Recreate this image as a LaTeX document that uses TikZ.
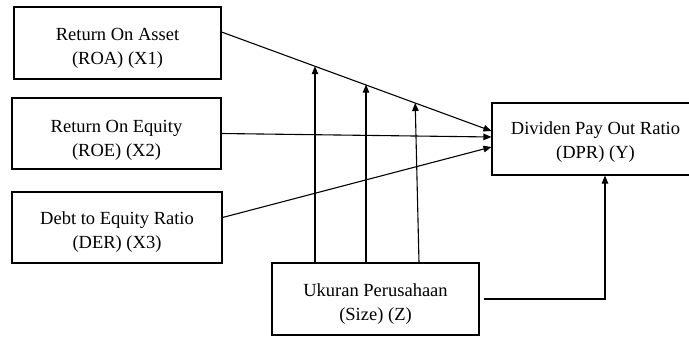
\documentclass[tikz,border=0pt]{standalone}
\usepackage{fontspec}
\setmainfont{Liberation Serif}
\usetikzlibrary{arrows.meta,calc}
\begin{document}
\begin{tikzpicture}[x=1pt,y=-1pt,
  varbox/.style={draw, line width=1.1pt, inner sep=0pt},
  txt/.style={inner sep=0pt, align=center, font=\fontsize{18.5}{24}\selectfont},
  conn/.style={line width=1.1pt},
  arr/.style={conn, -{Triangle[length=8pt,width=6.5pt]}}]
\useasboundingbox (0,0) rectangle (689,337);
\node[varbox, minimum width=207pt, minimum height=72pt] (roa) at (117.5,43) {};
\node[varbox, minimum width=209pt, minimum height=71pt] (roe) at (116.5,133.5) {};
\node[varbox, minimum width=210pt, minimum height=71pt] (der) at (117,227.5) {};
\node[varbox, minimum width=207pt, minimum height=72pt] (size) at (375.5,299) {};
\node[varbox, minimum width=200pt, minimum height=72pt] (dpr) at (592,139) {};
\node[txt] (roat) at ([yshift=-5.5pt]roa.center) {Return On Asset\\(ROA) (X1)};
\node[txt] (roet) at ([yshift=-6.5pt]roe.center) {Return On Equity\\(ROE) (X2)};
\node[txt] (dert) at ([yshift=-5pt]der.center) {Debt to Equity Ratio\\(DER) (X3)};
\node[txt] (sizet) at ([yshift=-5pt]size.center) {Ukuran Perusahaan\\(Size) (Z)};
\node[txt] (dprt) at ([xshift=3.5pt,yshift=-3pt]dpr.center) {Dividen Pay Out Ratio\\(DPR) (Y)};
\coordinate (r1) at ([yshift=11pt]roa.east);
\coordinate (r2) at ([yshift=8pt]dpr.west);
\draw[arr] (r1) -- (r2);
\draw[arr] (roe.east) -- ([yshift=2pt]dpr.west);
\draw[arr] ([yshift=10pt]der.east) -- ([yshift=-8pt]dpr.west);
\coordinate (t1) at ($(r1)!0.3457!(r2)$);
\coordinate (t2) at ($(r1)!0.5316!(r2)$);
\coordinate (t3) at ($(r1)!0.7175!(r2)$);
\coordinate (s1) at ([xshift=-60.5pt]size.north);
\coordinate (s2) at ([xshift=-9.5pt]size.north);
\coordinate (s3) at ([xshift=43.5pt]size.north);
\draw[arr] (s1) -- (s1 |- t1);
\draw[arr] (s2) -- (s2 |- t2);
\draw[arr] (s3) -- (t3);
\draw[arr] ([xshift=4pt]size.east) -| ([xshift=13pt]dpr.south);
\end{tikzpicture}
\end{document}
